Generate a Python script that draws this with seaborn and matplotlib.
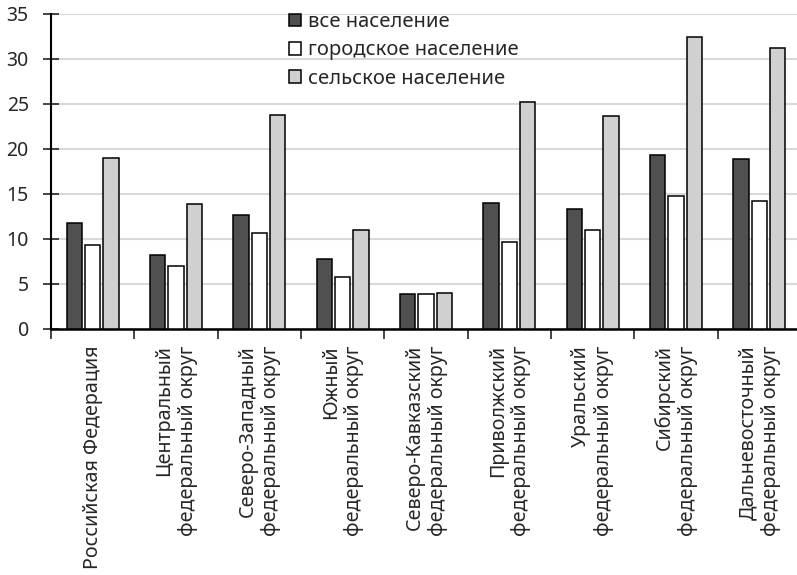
import pandas as pd
import matplotlib.pyplot as plt
import seaborn as sns

# regions (x-axis categories)
regions = [
    'Российская Федерация',
    'Центральный\nфедеральный округ',
    'Северо-Западный\nфедеральный округ',
    'Южный\nфедеральный округ',
    'Северо-Кавказский\nфедеральный округ',
    'Приволжский\nфедеральный округ',
    'Уральский\nфедеральный округ',
    'Сибирский\nфедеральный округ',
    'Дальневосточный\nфедеральный округ',
]
series = ['все население', 'городское население', 'сельское население']

all_pop = [11.7, 8.2, 12.6, 7.7, 3.8, 13.9, 13.3, 19.3, 18.8]
urban_pop = [9.3, 7.0, 10.6, 5.7, 3.8, 9.6, 11.0, 14.7, 14.2]
rural_pop = [18.9, 13.8, 23.7, 10.9, 3.9, 25.2, 23.6, 32.4, 31.2]

data = pd.DataFrame({
    'region': regions * 3,
    'series': [series[0]] * 9 + [series[1]] * 9 + [series[2]] * 9,
    'value': all_pop + urban_pop + rural_pop,
})

sns.set_style('white')
plt.rcParams['font.family'] = ['Noto Sans', 'DejaVu Sans']

fig = plt.figure(figsize=(7.97, 5.75), dpi=100)
ax = fig.add_axes([51 / 797, 1 - 328.5 / 575, 750 / 797, 315 / 575])

palette = {series[0]: '#505050', series[1]: '#ffffff', series[2]: '#d0d0d0'}
sns.barplot(data=data, x='region', y='value', hue='series', palette=palette,
            width=0.66, gap=0.18, edgecolor='black', linewidth=1.1,
            saturation=1, ax=ax, zorder=3)

ax.set_xlim(-0.5, 8.5)
ax.set_ylim(0, 35)
ax.set_yticks(range(0, 36, 5))
ax.yaxis.grid(True, color='#d9d9d9', linewidth=1.5, zorder=0)
ax.set_axisbelow(True)
ax.set_xlabel('')
ax.set_ylabel('')

for side in ['top', 'right']:
    ax.spines[side].set_visible(False)
ax.spines['left'].set_linewidth(1.5)
ax.spines['bottom'].set_linewidth(1.8)
ax.spines['left'].set_color('black')
ax.spines['bottom'].set_color('black')

ax.tick_params(axis='y', direction='inout', length=12, width=1.2, labelsize=14, pad=10, left=True)
ax.tick_params(axis='x', which='major', direction='in', length=5, width=1.2, pad=12, bottom=True)
ax.set_xticks(range(9))
ax.set_xticklabels(regions, rotation=90, fontsize=14.2, ha='center', va='top',
                   multialignment='right', linespacing=1.2)
ax.set_xticks([i - 0.5 for i in range(10)], minor=True)
ax.tick_params(axis='x', which='minor', direction='out', length=7, width=1.2, bottom=True)

handles, labels = ax.get_legend_handles_labels()
ax.legend(handles, labels, loc='upper left', bbox_to_anchor=(289 / 797, 1 - 12 / 575),
          bbox_transform=fig.transFigure, frameon=False, fontsize=14.5,
          handlelength=0.6, handleheight=0.6, handletextpad=0.35,
          labelspacing=0.42, borderpad=0, borderaxespad=0)

fig.savefig('out.png', dpi=100)
